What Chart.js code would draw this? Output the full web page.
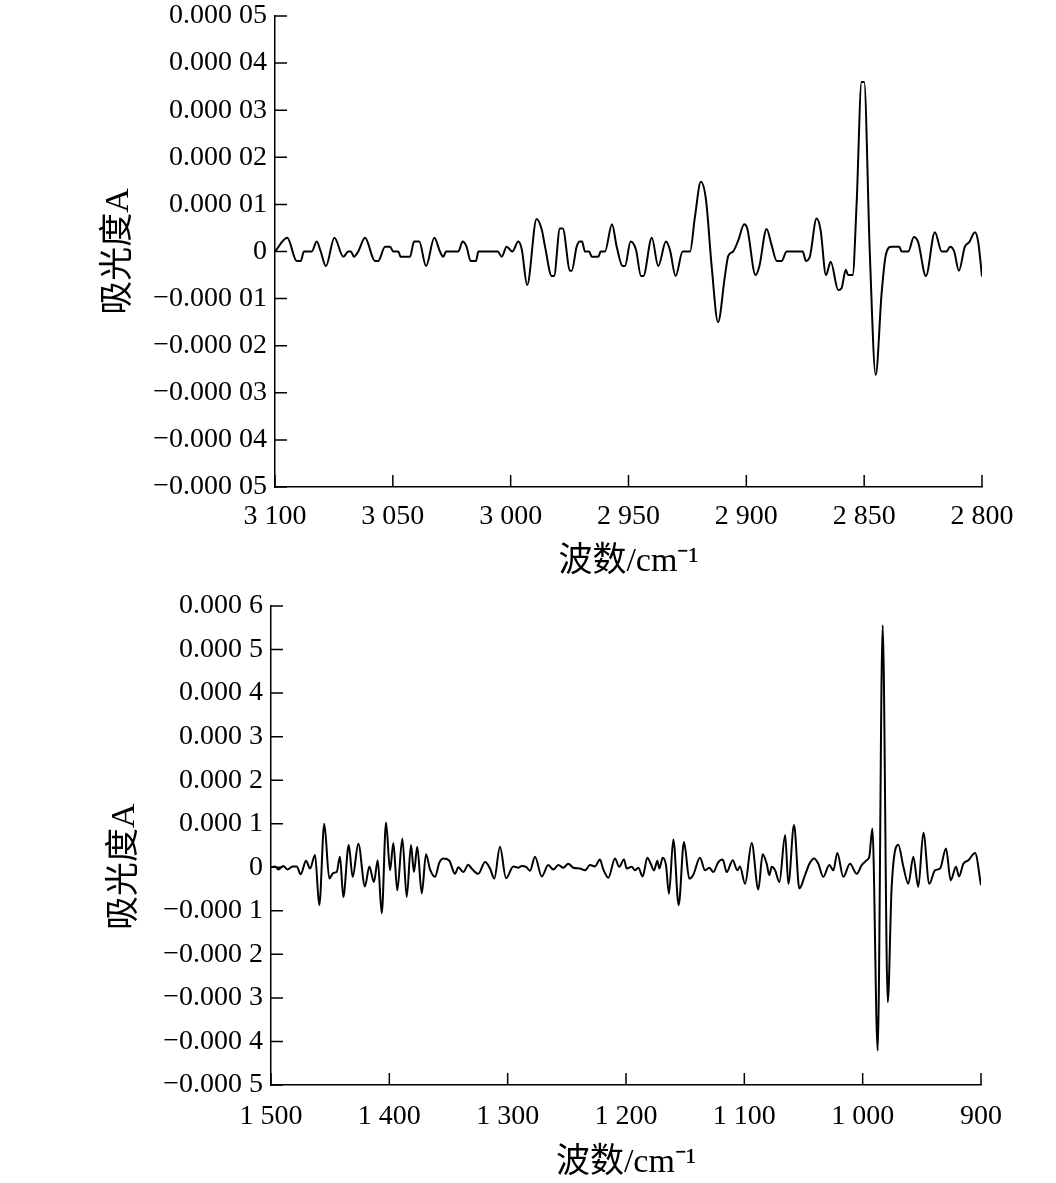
<!DOCTYPE html>
<html>
<head>
<meta charset="utf-8">
<script src="https://cdn.jsdelivr.net/npm/chart.js@4.4.1/dist/chart.umd.min.js"></script>
<style>
body { margin: 0; background: #fff; }
canvas { position: absolute; left: 0; }
</style>
</head>
<body>
<canvas id="topChart"></canvas>
<canvas id="bottomChart"></canvas>
<script>
// upper panel, 3100-2800 cm-1, absorbance in units of 1e-5
const topWavenumber = [
	3100, 3094.8, 3090.8, 3089.1, 3087.7, 3084.4, 3082.3, 3080.6, 3078.4, 3074.8,
	3071, 3068.9, 3067.8, 3066.5, 3064.7, 3061.8, 3057.6, 3056.2, 3053.3, 3051.2,
	3049.8, 3047.7, 3046.7, 3042.7, 3041, 3038.8, 3035.9, 3032.4, 3030, 3028.6,
	3027.4, 3022.2, 3020.4, 3018.7, 3017, 3014.7, 3013.7, 3005.5, 3003.8, 3001.7,
	2999.3, 2996.8, 2995.3, 2993, 2989, 2986.8, 2985.4, 2982.6, 2981.6, 2979.1,
	2977.9, 2974.8, 2974.1, 2972, 2970.6, 2969.7, 2968.5, 2966.7, 2965.6, 2962.8,
	2961.8, 2960, 2957, 2955, 2952.5, 2951.5, 2949.1, 2946.8, 2944.7, 2943.7,
	2940.1, 2937.4, 2934.1, 2932.4, 2930, 2927, 2923.9, 2921.8, 2919.3, 2917.1,
	2914.7, 2912, 2909.1, 2907.7, 2905.6, 2903.4, 2900.9, 2899.6, 2896.1, 2894.5,
	2891.4, 2889.3, 2887.1, 2885, 2882.9, 2876.1, 2874.7, 2873, 2870.2, 2868.5,
	2866.2, 2864.2, 2861, 2859.6, 2857.8, 2856.8, 2854.9, 2853.2, 2851.1, 2850,
	2847.6, 2845.1, 2842.6, 2840.8, 2838.4, 2835.1, 2834.1, 2831.3, 2828.9, 2827.1,
	2823.8, 2820, 2817.1, 2815, 2813.6, 2811.8, 2809.8, 2807.3, 2805.4, 2803,
	2801.6, 2800
];
const topAbsorbance = [
	0, 0.29, -0.2, -0.2, 0, 0, 0.21, 0, -0.31, 0.29,
	-0.11, 0, 0, -0.11, 0, 0.29, -0.2, -0.2, 0.1, 0.1,
	0, 0, -0.11, -0.11, 0.21, 0.21, -0.31, 0.29, 0, -0.11,
	0, 0, 0.21, 0.1, -0.2, -0.2, 0, 0, -0.11, 0.1,
	0, 0.21, 0.05, -0.71, 0.69, 0.46, 0.1, -0.52, -0.52, 0.49,
	0.49, -0.41, -0.41, 0.1, 0.21, 0.21, 0, 0, -0.11, -0.11,
	0, 0, 0.58, 0.1, -0.31, -0.31, 0.21, 0.03, -0.52, -0.52,
	0.29, -0.31, 0.21, 0.03, -0.52, 0, 0, 0.74, 1.48, 1.09,
	-0.32, -1.5, -0.53, -0.1, 0, 0.24, 0.58, 0.49, -0.5, -0.32,
	0.48, 0.14, -0.2, -0.2, 0, 0, -0.2, -0.1, 0.7, 0.46,
	-0.5, -0.22, -0.82, -0.78, -0.39, -0.5, -0.5, 1.02, 3.6, 3.6,
	-0.04, -2.62, -0.89, -0.07, 0.1, 0.1, 0, 0, 0.31, 0.2,
	-0.52, 0.41, 0, 0, 0.1, 0, -0.41, 0.1, 0.2, 0.41,
	0.2, -0.53
];
// tick labels, ascending value order
const topXTicks = ['2 800', '2 850', '2 900', '2 950', '3 000', '3 050', '3 100'];
const topYTicks = ['\u22120.000 05', '\u22120.000 04', '\u22120.000 03', '\u22120.000 02', '\u22120.000 01', '0',
	'0.000 01', '0.000 02', '0.000 03', '0.000 04', '0.000 05'];

// lower panel, 1500-900 cm-1, absorbance in units of 1e-4
const bottomWavenumber = [
	1500, 1496.6, 1493.8, 1489.6, 1486.2, 1481.7, 1478.3, 1474.9, 1470.4, 1467,
	1462.8, 1459.2, 1455, 1450.7, 1447.4, 1444.5, 1441.7, 1438.9, 1434.3, 1431,
	1426.2, 1420.6, 1416.9, 1413, 1409.8, 1406.4, 1402.8, 1399.4, 1396.6, 1393.3,
	1389, 1385.3, 1381.7, 1379.2, 1376.4, 1372.6, 1369, 1365.6, 1361.4, 1357.8,
	1354.4, 1349.3, 1344.5, 1341.7, 1337.5, 1333.3, 1330.4, 1324.8, 1319.1, 1314.9,
	1311.3, 1306.5, 1301.4, 1295.2, 1291, 1288.1, 1284.5, 1281.1, 1276.9, 1271.2,
	1265.7, 1261.4, 1257.2, 1253, 1248.8, 1244.5, 1238.9, 1234.6, 1230.4, 1226.2,
	1222, 1219.2, 1214.9, 1209.3, 1205.7, 1201.7, 1199.4, 1195.2, 1192.4, 1189.6,
	1185.9, 1182, 1179.1, 1176.3, 1173.5, 1171.8, 1169, 1166.2, 1163.7, 1160,
	1155.5, 1151, 1146.5, 1143.1, 1137.5, 1133.2, 1129.6, 1126.2, 1122, 1118.3,
	1114.9, 1109.8, 1105.9, 1103.7, 1099.4, 1093.8, 1088.2, 1084.5, 1081.1, 1078.9,
	1076.8, 1074, 1070.4, 1065.5, 1062.8, 1058, 1053.5, 1048.7, 1045, 1041.1,
	1037.5, 1033.3, 1028.2, 1024.8, 1021.4, 1016.4, 1010.7, 1005, 1000.8, 996.6,
	994.4, 991.8, 987.3, 983.1, 978.8, 975.5, 969.9, 965.6, 961.4, 957.2,
	953, 948.7, 943.7, 938.9, 934.6, 929.6, 925.6, 921.1, 918.6, 914.9,
	910.7, 905, 900
];
const bottomAbsorbance = [
	0, 0.02, -0.05, 0.03, -0.05, 0.02, 0.02, -0.16, 0.15, -0.03,
	0.28, -0.87, 1.0, -0.26, -0.13, -0.11, 0.24, -0.68, 0.51, -0.22,
	0.54, -0.44, 0.02, -0.34, 0.16, -1.06, 1.03, -0.07, 0.56, -0.53,
	0.66, -0.68, 0.51, -0.11, 0.47, -0.6, 0.3, -0.05, -0.22, 0.1,
	0.2, 0.15, -0.15, 0, -0.11, 0.06, -0.03, -0.15, 0.12, -0.03,
	-0.26, 0.47, -0.25, 0.02, -0.01, 0.03, 0.01, -0.08, 0.24, -0.21,
	0.05, -0.05, 0.05, -0.01, 0.08, -0.01, -0.03, -0.07, 0.05, 0.02,
	0.18, -0.05, -0.24, 0.2, 0.01, 0.18, -0.03, 0.01, -0.07, -0.01,
	-0.21, 0.22, 0.08, -0.07, 0.15, -0.03, 0.22, 0.05, -0.61, 0.64,
	-0.87, 0.58, -0.26, -0.17, 0.22, -0.07, -0.01, -0.11, 0.12, 0.18,
	-0.11, 0.16, -0.07, 0.02, -0.38, 0.56, -0.51, 0.3, 0.08, -0.18,
	0.01, -0.07, -0.34, 0.74, -0.38, 0.97, -0.49, -0.18, 0.08, 0.2,
	0.08, -0.22, 0.05, -0.07, 0.33, -0.22, 0.08, -0.15, 0.05, 0.16,
	0.24, 0.89, -4.21, 5.56, -3.1, -0.45, 0.52, 0.01, -0.38, 0.24,
	-0.45, 0.79, -0.38, -0.07, -0.03, 0.43, -0.3, 0.01, -0.21, 0.08,
	0.16, 0.33, -0.41
];
const bottomXTicks = ['900', '1 000', '1 100', '1 200', '1 300', '1 400', '1 500'];
const bottomYTicks = ['\u22120.000 5', '\u22120.000 4', '\u22120.000 3', '\u22120.000 2', '\u22120.000 1', '0',
	'0.000 1', '0.000 2', '0.000 3', '0.000 4', '0.000 5', '0.000 6'];

const xTitle = '波数/cm\u207B\u00B9';
const yTitle = '吸光度A';

const serif = "'Liberation Serif', 'Noto Sans CJK SC', serif";

// short tick marks pointing into the plot
const inwardTicks = {
	id: 'inwardTicks',
	afterDatasetsDraw(chart, args, opts) {
		const { ctx, chartArea: a, scales: { x, y } } = chart;
		ctx.save();
		ctx.strokeStyle = '#000';
		ctx.lineWidth = 1.5;
		ctx.beginPath();
		x.ticks.forEach(t => {
			const px = x.getPixelForValue(t.value);
			ctx.moveTo(px, a.bottom);
			ctx.lineTo(px, a.bottom - opts.len);
		});
		y.ticks.forEach(t => {
			const py = y.getPixelForValue(t.value);
			ctx.moveTo(a.left, py);
			ctx.lineTo(a.left + opts.len, py);
		});
		ctx.stroke();
		ctx.restore();
	}
};

function setSize(e, w, h, top) {
	e.width = w;
	e.height = h;
	e.style.width = `${w}px`;
	e.style.height = `${h}px`;
	e.style.top = `${top}px`;
}

function plot(id, o) {
	const canvas = document.getElementById(id);
	setSize(canvas, 1056, o.height, o.top);

	const pts = o.wn.map((w, i) => ({ x: w, y: o.abs[i] }));

	return new Chart(canvas.getContext('2d'), {
		type: 'line',
		data: {
			datasets: [{
				data: pts,
				borderColor: '#000',
				borderWidth: 2,
				pointRadius: 0,
				cubicInterpolationMode: 'monotone',
				fill: false,
			}],
		},
		plugins: [inwardTicks],
		options: {
			responsive: false,
			animation: false,
			devicePixelRatio: 1,
			layout: { padding: { top: o.padTop, right: o.padRight, left: 0, bottom: 0 } },
			plugins: {
				legend: { display: false },
				tooltip: { enabled: false },
				inwardTicks: { len: 12 },
			},
			scales: {
				x: {
					type: 'linear',
					reverse: true,
					min: o.xMin,
					max: o.xMax,
					afterFit(s) { s.height = o.xHeight; },
					grid: { display: true, drawOnChartArea: false, drawTicks: false },
					border: { display: true, color: '#000', width: 1.5 },
					ticks: {
						stepSize: o.xStep,
						autoSkip: false,
						maxRotation: 0,
						padding: o.xTickPad,
						color: '#000',
						font: { family: serif, size: 28 },
						callback: v => o.xTicks[Math.round((v - o.xMin) / o.xStep)],
					},
					title: {
						display: true,
						text: xTitle,
						color: '#000',
						font: { family: serif, size: 34 },
						padding: { top: 0, bottom: o.xTitlePad },
					},
				},
				y: {
					min: o.yMin,
					max: o.yMax,
					afterFit(s) {
						s.width = o.yWidth;
						// let the layout padding alone decide where the plot starts
						s.paddingTop = 0;
						s.paddingBottom = 0;
					},
					grid: { display: true, drawOnChartArea: false, drawTicks: false },
					border: { display: true, color: '#000', width: 1.5 },
					ticks: {
						stepSize: 1,
						autoSkip: false,
						padding: 8,
						color: '#000',
						font: { family: serif, size: 28 },
						callback: v => o.yTicks[Math.round(v - o.yMin)],
					},
					title: {
						display: true,
						text: o.yTitle,
						color: '#000',
						font: { family: serif, size: 34 },
						padding: { top: o.yTitlePad, bottom: 0 },
					},
				},
			},
		},
	});
}

window.onload = function() {
	plot('topChart', {
		top: 0, height: 590, padTop: 16, padRight: 74,
		wn: topWavenumber, abs: topAbsorbance,
		xMin: 2800, xMax: 3100, xStep: 50, xTicks: topXTicks,
		yMin: -5, yMax: 5, yTicks: topYTicks, yTitle: yTitle,
		xHeight: 103, yWidth: 275, xTickPad: 13, xTitlePad: 8, yTitlePad: 99,
	});
	// title in the lower panel sits lower than the plot centre, pad the end with spaces
	plot('bottomChart', {
		top: 590, height: 593, padTop: 16, padRight: 75,
		wn: bottomWavenumber, abs: bottomAbsorbance,
		xMin: 900, xMax: 1500, xStep: 100, xTicks: bottomXTicks,
		yMin: -5, yMax: 6, yTicks: bottomYTicks, yTitle: yTitle + '\u00A0\u00A0\u00A0\u00A0\u00A0',
		xHeight: 98, yWidth: 271, xTickPad: 15, xTitlePad: 0, yTitlePad: 105,
	});
};
</script>
</body>
</html>
